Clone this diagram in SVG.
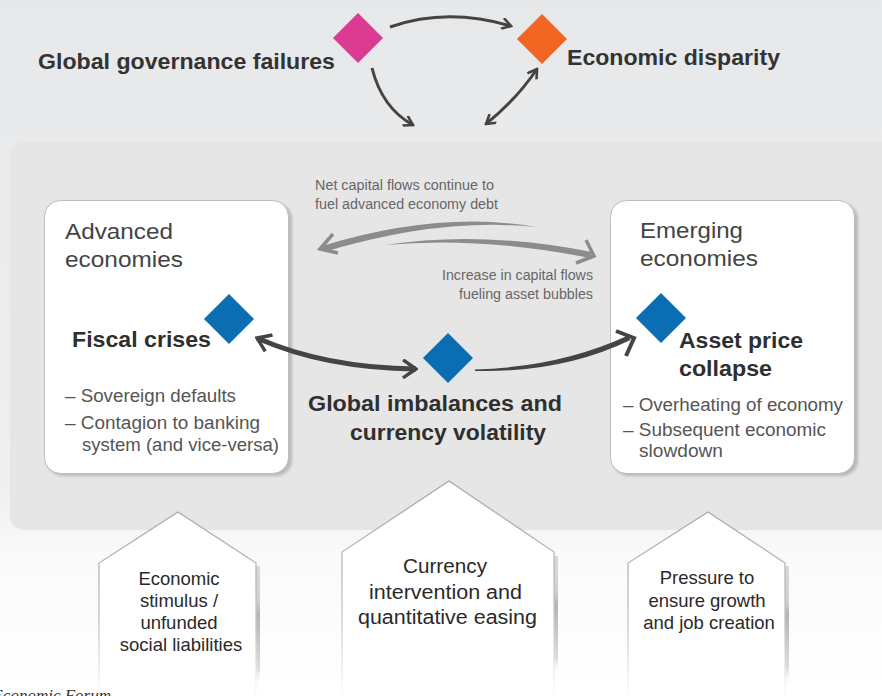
<svg xmlns="http://www.w3.org/2000/svg" width="882" height="696" viewBox="0 0 882 696">
<defs>
  <linearGradient id="bg" x1="0" y1="0" x2="0" y2="1">
    <stop offset="0" stop-color="#e7e8ea"/>
    <stop offset="0.7" stop-color="#eeeff0"/>
    <stop offset="0.8" stop-color="#fafafa"/>
    <stop offset="1" stop-color="#ffffff"/>
  </linearGradient>
  <linearGradient id="houseStroke" x1="0" y1="0" x2="0" y2="1">
    <stop offset="0" stop-color="#a8a8a8"/>
    <stop offset="0.6" stop-color="#c4c4c4"/>
    <stop offset="1" stop-color="#ffffff"/>
  </linearGradient>
  <linearGradient id="houseShadow" x1="0" y1="0" x2="0" y2="1">
    <stop offset="0" stop-color="#d8d8d8"/>
    <stop offset="0.3" stop-color="#d0d0d0"/>
    <stop offset="0.4" stop-color="#b4b4b4"/>
    <stop offset="0.85" stop-color="#dcdcdc"/>
    <stop offset="1" stop-color="#ffffff" stop-opacity="0"/>
  </linearGradient>
  <filter id="shadow" x="-10%" y="-10%" width="120%" height="120%">
    <feGaussianBlur stdDeviation="1.5"/>
  </filter>
  <marker id="chev" viewBox="0 0 12 12" refX="10" refY="6" markerWidth="12" markerHeight="12" markerUnits="userSpaceOnUse" orient="auto-start-reverse">
    <polyline points="1,0.5 10,6 1,11.5" fill="none" stroke="#444" stroke-width="2.6"/>
  </marker>
  <marker id="chevL" viewBox="0 0 16 20" refX="14" refY="10" markerWidth="16" markerHeight="20" markerUnits="userSpaceOnUse" orient="auto-start-reverse">
    <polyline points="1,1 14,10 1,19" fill="none" stroke="#444" stroke-width="3.4"/>
  </marker>
  <style>
    .t { font-family: "Liberation Sans", Arial, sans-serif; }
    .head { font-weight: bold; font-size: 22px; fill: #333; }
    .region { font-size: 22.5px; fill: #444; }
    .risk { font-weight: bold; font-size: 22.5px; fill: #2f2f2f; }
    .bullet { font-size: 18px; fill: #555; }
    .note { font-size: 14px; fill: #666; }
    .house { font-size: 18.5px; fill: #2a2a2a; text-anchor: middle; }
    .box { fill: #ffffff; stroke: #bdbdbd; stroke-width: 1; }
    .boxsh { fill: #b8b8b8; filter: url(#shadow); }
    .hs { fill: #ffffff; stroke: url(#houseStroke); stroke-width: 1.3; }
    .dia-blue { fill: #0b6db2; }
    .conn { fill: none; stroke: #444; stroke-width: 3; }
  </style>
</defs>

<rect x="0" y="0" width="882" height="696" fill="url(#bg)"/>
<rect id="panel" x="10" y="142" width="900" height="388" rx="14" fill="#e6e6e6"/>

<g id="node-governance">
  <rect x="340.3" y="20.3" width="35.4" height="35.4" transform="rotate(45 358 38)" fill="#dd3a92"/>
  <text class="t head" x="38" y="69" textLength="297" lengthAdjust="spacingAndGlyphs">Global governance failures</text>
</g>

<g id="node-disparity">
  <rect x="524.3" y="21.3" width="35.4" height="35.4" transform="rotate(45 542 39)" fill="#f26522"/>
  <text class="t head" x="567" y="65" textLength="213" lengthAdjust="spacingAndGlyphs">Economic disparity</text>
</g>

<g id="node-advanced">
  <rect class="boxsh" x="47" y="203" width="245" height="273" rx="16"/>
  <rect class="box" x="44.5" y="200.5" width="244" height="273" rx="16"/>
  <text class="t region" x="65" y="239" textLength="108" lengthAdjust="spacingAndGlyphs">Advanced</text>
  <text class="t region" x="65" y="267" textLength="118" lengthAdjust="spacingAndGlyphs">economies</text>
  <rect x="211.3" y="301.3" width="35.4" height="35.4" transform="rotate(45 229 319)" class="dia-blue"/>
  <text class="t risk" x="72" y="347" textLength="139" lengthAdjust="spacingAndGlyphs">Fiscal crises</text>
  <text class="t bullet" x="65" y="402" textLength="171" lengthAdjust="spacingAndGlyphs">– Sovereign defaults</text>
  <text class="t bullet" x="65" y="429" textLength="195" lengthAdjust="spacingAndGlyphs">– Contagion to banking</text>
  <text class="t bullet" x="82" y="451" textLength="197" lengthAdjust="spacingAndGlyphs">system (and vice-versa)</text>
</g>

<g id="node-emerging">
  <rect class="boxsh" x="613" y="203" width="245" height="273" rx="16"/>
  <rect class="box" x="610.5" y="200.5" width="244" height="273" rx="16"/>
  <text class="t region" x="640" y="238" textLength="103" lengthAdjust="spacingAndGlyphs">Emerging</text>
  <text class="t region" x="640" y="266" textLength="118" lengthAdjust="spacingAndGlyphs">economies</text>
  <rect x="643.3" y="300.3" width="35.4" height="35.4" transform="rotate(45 661 318)" class="dia-blue"/>
  <text class="t risk" x="679" y="348" textLength="124" lengthAdjust="spacingAndGlyphs">Asset price</text>
  <text class="t risk" x="679" y="376" textLength="93" lengthAdjust="spacingAndGlyphs">collapse</text>
  <text class="t bullet" x="623" y="411" textLength="220" lengthAdjust="spacingAndGlyphs">– Overheating of economy</text>
  <text class="t bullet" x="623" y="436" textLength="203" lengthAdjust="spacingAndGlyphs">– Subsequent economic</text>
  <text class="t bullet" x="639" y="457" textLength="84" lengthAdjust="spacingAndGlyphs">slowdown</text>
</g>

<g id="node-imbalances">
  <rect x="430.3" y="340.3" width="35.4" height="35.4" transform="rotate(45 448 358)" class="dia-blue"/>
  <text class="t risk" x="308" y="411" textLength="254" lengthAdjust="spacingAndGlyphs">Global imbalances and</text>
  <text class="t risk" x="350" y="440" textLength="196" lengthAdjust="spacingAndGlyphs">currency volatility</text>
</g>

<g id="connectors">
  <path class="conn" d="M390,27 Q447,7 511,26" marker-end="url(#chev)"/>
  <path class="conn" d="M372,68 Q382,108 413,125" marker-end="url(#chev)"/>
  <path class="conn" d="M486,124 Q516,100 537,69" marker-start="url(#chev)" marker-end="url(#chev)"/>
  <path d="M257,338 Q325,368 416,369" fill="none" stroke="#444" stroke-width="5" marker-start="url(#chevL)" marker-end="url(#chevL)"/>
  <path d="M475,369.5 Q560,367 628,335.5 L630.5,340 Q562,373 475,371 Z" fill="#444"/>
  <polyline points="616,331 634,338 626,356" fill="none" stroke="#444" stroke-width="4"/>
  <path d="M536,227 Q440,210 322,246 L324,252 Q440,217 536,227 Z" fill="#8c8c8c"/>
  <polyline points="333,234 320,249 338,253" fill="none" stroke="#8c8c8c" stroke-width="3.5"/>
  <path d="M385,245 Q480,230 592,252 L590,258 Q480,236 385,245 Z" fill="#8c8c8c"/>
  <polyline points="586,240 594,256 576,263" fill="none" stroke="#8c8c8c" stroke-width="3.5"/>
  <text class="t note" x="315" y="190" textLength="179" lengthAdjust="spacingAndGlyphs">Net capital flows continue to</text>
  <text class="t note" x="315" y="209" textLength="183" lengthAdjust="spacingAndGlyphs">fuel advanced economy debt</text>
  <text class="t note" x="442" y="280" textLength="151" lengthAdjust="spacingAndGlyphs">Increase in capital flows</text>
  <text class="t note" x="459" y="299" textLength="134" lengthAdjust="spacingAndGlyphs">fueling asset bubbles</text>
</g>

<g id="node-stimulus">
  <rect x="256" y="566" width="4" height="120" fill="url(#houseShadow)"/>
  <path class="hs" d="M99,700 L99,563 L178,512 L256,563 L256,700"/>
  <text class="t house" x="179" y="585">Economic</text>
  <text class="t house" x="179" y="607">stimulus /</text>
  <text class="t house" x="179" y="629">unfunded</text>
  <text class="t house" x="181" y="651">social liabilities</text>
</g>

<g id="node-currency">
  <rect x="554" y="556" width="4" height="120" fill="url(#houseShadow)"/>
  <path class="hs" d="M342,700 L342,552 L449,481 L554,552 L554,700"/>
  <text class="t" x="403" y="573" style="font-size:20px;fill:#2a2a2a" textLength="84" lengthAdjust="spacingAndGlyphs">Currency</text>
  <text class="t" x="369" y="599" style="font-size:20px;fill:#2a2a2a" textLength="153" lengthAdjust="spacingAndGlyphs">intervention and</text>
  <text class="t" x="358" y="624" style="font-size:20px;fill:#2a2a2a" textLength="179" lengthAdjust="spacingAndGlyphs">quantitative easing</text>
</g>

<g id="node-pressure">
  <rect x="785" y="566" width="4" height="120" fill="url(#houseShadow)"/>
  <path class="hs" d="M628,700 L628,563 L708,512 L785,563 L785,700"/>
  <text class="t house" x="707" y="584">Pressure to</text>
  <text class="t house" x="707" y="607">ensure growth</text>
  <text class="t house" x="709" y="629">and job creation</text>
</g>

<text x="111" y="701" text-anchor="end" font-family="'Liberation Serif', serif" font-style="italic" font-size="17" fill="#333">World Economic Forum</text>
</svg>
